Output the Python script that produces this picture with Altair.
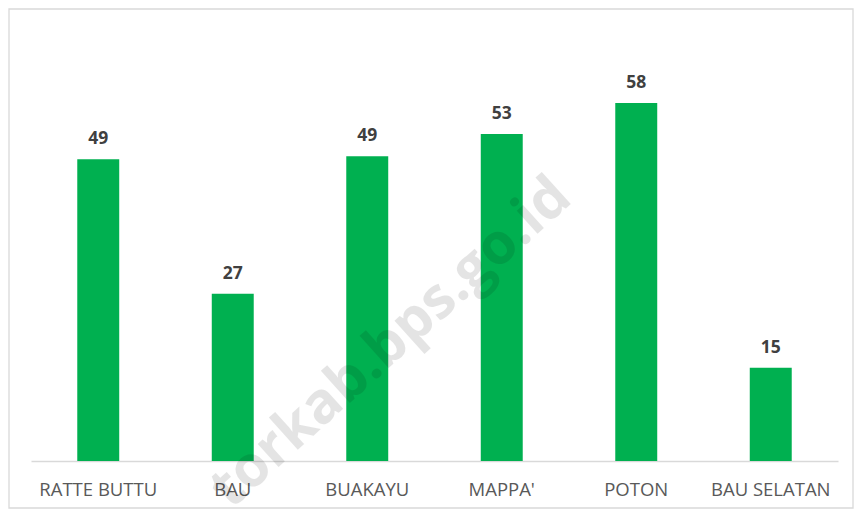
import altair as alt
import pandas as pd

categories = ["RATTE BUTTU", "BAU", "BUAKAYU", "MAPPA'", "POTON", "BAU SELATAN"]
values = [48.9, 27.1, 49.4, 53.0, 58.0, 15.1]
watermark = "torkab.bps.go.id"

df = pd.DataFrame({"kategori": categories, "nilai": values})

W, H = 807, 432

x = alt.X("kategori:N", sort=categories,
          scale=alt.Scale(paddingInner=0.688, paddingOuter=0.344),
          axis=alt.Axis(title=None, labelAngle=0, ticks=False, labelPadding=19,
                        labelFont="Open Sans", labelFontSize=18.5, labelColor="#595959",
                        domainColor="#d9d9d9", domainWidth=1.3, labelFontWeight="normal"))
y = alt.Y("nilai:Q", scale=alt.Scale(domain=[0, 70], nice=False), axis=None)

base = alt.Chart(df)

bars = base.mark_bar(color="#00B050").encode(x=x, y=y)

labels = base.mark_text(font="Open Sans", fontSize=17.5, fontWeight="bold",
                        color="#404040", baseline="alphabetic", dy=-15).encode(
    x=x, y=y, text=alt.Text("nilai:Q", format=".0f"))

border = alt.Chart(pd.DataFrame({"a": [0]})).mark_rect(
    fill=None, stroke="#d9d9d9", strokeWidth=1.3).encode(
    x=alt.value(-22), x2=alt.value(822), y=alt.value(-20), y2=alt.value(479))

wm = alt.Chart(pd.DataFrame({"t": [watermark]})).mark_text(
    font="Open Sans", fontWeight="bold", fontSize=57, angle=318,
    align="center", baseline="middle", color="#000000", opacity=0.1).encode(
    x=alt.value(360), y=alt.value(314), text="t:N")

chart = alt.layer(border, bars, labels, wm).properties(
    width=W, height=H,
    autosize=alt.AutoSizeParams(type="none"),
    padding={"left": 23, "top": 21, "right": 16, "bottom": 48},
).configure(background="white").configure_view(stroke=None)

chart.save("out.html", embed_options={"renderer": "svg", "actions": False})
